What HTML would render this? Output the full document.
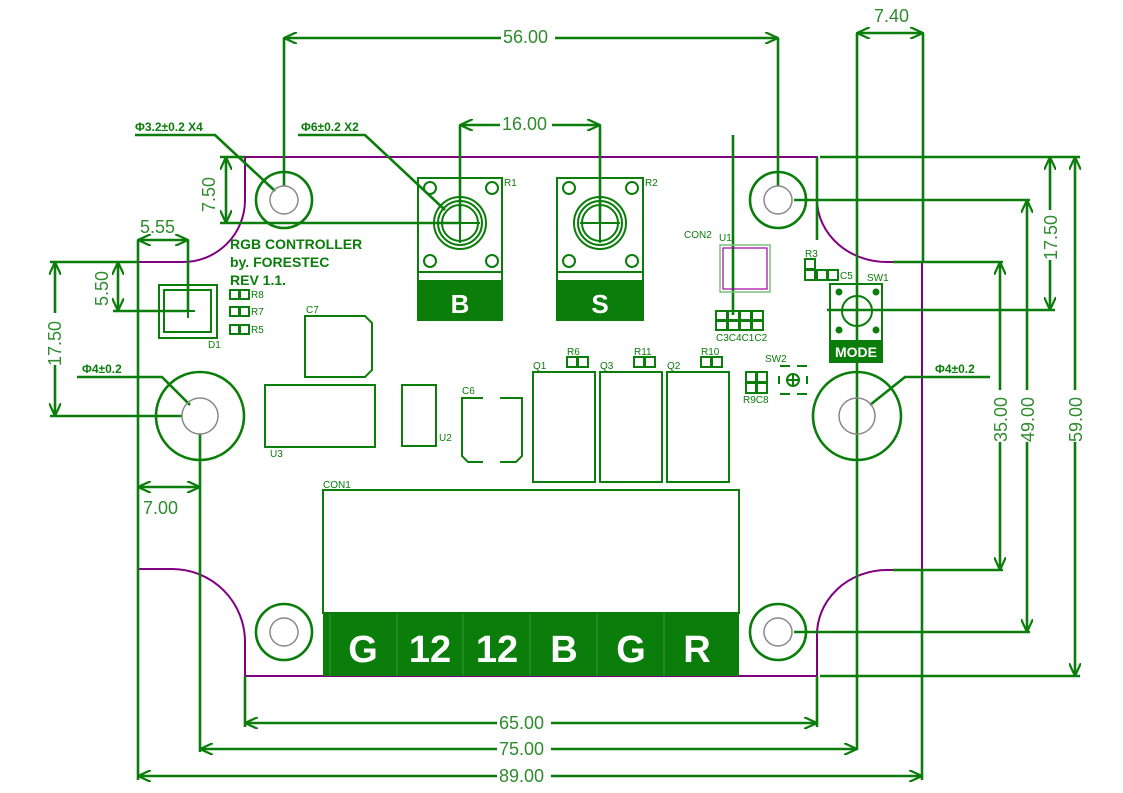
<!DOCTYPE html>
<html><head><meta charset="utf-8"><style>
html,body{margin:0;padding:0;background:#fff;width:1123px;height:793px;overflow:hidden}
svg{display:block}
.g{stroke:#0a7d0a;stroke-width:2.6;fill:none}
.t{stroke:#0a7d0a;stroke-width:2;fill:none}
.p{stroke:#800080;stroke-width:2;fill:none}
.h{stroke:#888;stroke-width:1.5;fill:none}
.d{font-family:"Liberation Sans",sans-serif;font-size:18px;fill:#2e8b2e}
.b{font-family:"Liberation Sans",sans-serif;font-weight:bold;fill:#0a7d0a}
.s{font-family:"Liberation Sans",sans-serif;font-size:10px;fill:#0a7d0a}
.w{font-family:"Liberation Sans",sans-serif;font-weight:bold;fill:#fff}
</style></head><body>
<svg width="1123" height="793" viewBox="0 0 1123 793">
<defs>
<marker id="a" viewBox="0 0 14 12" refX="13" refY="6" markerWidth="14" markerHeight="12" markerUnits="userSpaceOnUse" orient="auto-start-reverse">
<path d="M0,0 L13,6 L0,12" fill="none" stroke="#0a7d0a" stroke-width="2.2"/>
</marker>
</defs>
<!-- board outline -->
<path class="p" d="M245,157 L817,157 L817,200 A70,63 0 0 0 890,262 L922,262 L922,570 L887,570 A70,65 0 0 0 817,637 L817,676 L245,676 L245,643 A73,73 0 0 0 172,569 L138,569 L138,262 L183,262 A62,62 0 0 0 245,200 Z"/>

<!-- extension lines -->
<g class="g">
<path d="M284,38 V186"/><path d="M778,38 V186"/>
<path d="M460,125 V223"/><path d="M600,125 V223"/>
<path d="M857,33 V750"/><path d="M923,33 V262"/>
<path d="M220,157 H245"/><path d="M220,223 H460"/>
<path d="M188,240 V311"/><path d="M138,240 V780"/>
<path d="M50,262 H138"/><path d="M113,311 H188"/>
<path d="M50,416 H182"/><path d="M200,434 V752"/>
<path d="M245,676 V727"/><path d="M817,676 V727"/>
<path d="M922,570 V780"/>
<path d="M820,157 H1080"/><path d="M817,157 V240"/>
<path d="M794,200 H1030"/><path d="M827,310 H1055"/>
<path d="M893,262 H1003"/><path d="M893,570 H1003"/>
<path d="M794,632 H1030"/><path d="M820,676 H1080"/>
<path d="M733,135 V315"/>
</g>
<!-- dimension lines -->
<g class="g" marker-start="url(#a)" marker-end="url(#a)">
<path d="M284,38 H778"/>
<path d="M460,125 H600"/>
<path d="M857,33 H923"/>
<path d="M226,157 V223"/>
<path d="M138,240 H188"/>
<path d="M118,262 V311"/>
<path d="M55,262 V416"/>
<path d="M138,487 H200"/>
<path d="M245,723 H817"/>
<path d="M200,749 H857"/>
<path d="M138,776 H922"/>
<path d="M1050,157 V310"/>
<path d="M1000,262 V570"/>
<path d="M1027,200 V632"/>
<path d="M1075,157 V676"/>
</g>
<!-- dim text with white gaps -->
<g fill="#fff">
<rect x="501" y="28" width="54" height="18"/>
<rect x="500" y="115" width="52" height="18"/>
<rect x="497" y="713" width="54" height="18"/>
<rect x="497" y="739" width="54" height="18"/>
<rect x="497" y="766" width="54" height="18"/>
<rect x="1040" y="210" width="20" height="50"/>
<rect x="990" y="390" width="20" height="52"/>
<rect x="1017" y="390" width="20" height="52"/>
<rect x="1065" y="390" width="20" height="52"/>
<rect x="45" y="313" width="20" height="52"/>
</g>
<g class="d">
<text x="503" y="43">56.00</text>
<text x="502" y="130">16.00</text>
<text x="874" y="22">7.40</text>
<text x="499" y="729">65.00</text>
<text x="499" y="755">75.00</text>
<text x="499" y="782">89.00</text>
<text x="143" y="514">7.00</text>
<text x="140" y="233">5.55</text>
<text transform="translate(215,212) rotate(-90)">7.50</text>
<text transform="translate(108,306) rotate(-90)">5.50</text>
<text transform="translate(61,366) rotate(-90)">17.50</text>
<text transform="translate(1057,260) rotate(-90)">17.50</text>
<text transform="translate(1007,442) rotate(-90)">35.00</text>
<text transform="translate(1034,442) rotate(-90)">49.00</text>
<text transform="translate(1082,442) rotate(-90)">59.00</text>
</g>
<!-- leaders -->
<g class="g">
<path d="M135,135 H215 L275,191"/>
<path d="M298,135 H365 L445,210"/>
<path d="M77,377 H162 L190,405"/>
<path d="M990,377 H905 L870,405"/>
</g>
<g class="b" font-size="12">
<text x="135" y="131">Φ3.2±0.2 X4</text>
<text x="301" y="131">Φ6±0.2 X2</text>
<text x="82" y="373">Φ4±0.2</text>
<text x="935" y="373">Φ4±0.2</text>
</g>
<!-- holes -->
<g class="g">
<circle cx="284" cy="200" r="28"/><circle cx="778" cy="200" r="28"/>
<circle cx="284" cy="632" r="28"/><circle cx="778" cy="632" r="28"/>
<circle cx="200" cy="416" r="44"/><circle cx="857" cy="416" r="44"/>
</g>
<g class="h">
<circle cx="284" cy="200" r="14"/><circle cx="778" cy="200" r="14"/>
<circle cx="284" cy="632" r="14"/><circle cx="778" cy="632" r="14"/>
<circle cx="200" cy="416" r="18"/><circle cx="857" cy="416" r="18"/>
</g>
<!-- title -->
<g class="b" font-size="14">
<text x="230" y="249">RGB CONTROLLER</text>
<text x="230" y="267">by. FORESTEC</text>
<text x="230" y="285">REV 1.1.</text>
</g>
<!-- pots -->
<g class="t">
<rect x="418" y="178" width="84" height="142"/><path d="M418,272 H502"/>
<circle cx="430" cy="188" r="6"/><circle cx="492" cy="188" r="6"/><circle cx="430" cy="261" r="6"/><circle cx="492" cy="261" r="6"/>
<circle cx="460" cy="223" r="26"/><circle cx="460" cy="223" r="22"/><circle cx="460" cy="223" r="18"/><path d="M440,223 H480 M460,203 V243"/>
<rect x="557" y="178" width="86" height="142"/><path d="M557,272 H643"/>
<circle cx="569" cy="188" r="6"/><circle cx="632" cy="188" r="6"/><circle cx="569" cy="261" r="6"/><circle cx="632" cy="261" r="6"/>
<circle cx="600" cy="223" r="26"/><circle cx="600" cy="223" r="22"/><circle cx="600" cy="223" r="18"/><path d="M580,223 H620 M600,203 V243"/>
</g>
<rect x="418" y="280" width="84" height="40" fill="#0a7d0a"/>
<rect x="557" y="280" width="86" height="40" fill="#0a7d0a"/>
<text class="w" x="460" y="313" font-size="26" text-anchor="middle">B</text>
<text class="w" x="600" y="313" font-size="26" text-anchor="middle">S</text>
<text class="s" x="504" y="186" font-size="9">R1</text>
<text class="s" x="645" y="186" font-size="9">R2</text>
<!-- D1 and small pads -->
<g class="t">
<rect x="159" y="285" width="58" height="53"/><rect x="164" y="290" width="47" height="42"/>
<path d="M188,305 V318 M181,311 H195"/>
<rect x="230" y="290" width="9" height="9"/><rect x="240" y="290" width="9" height="9"/>
<rect x="230" y="307" width="9" height="9"/><rect x="240" y="307" width="9" height="9"/>
<rect x="230" y="325" width="9" height="9"/><rect x="240" y="325" width="9" height="9"/>
</g>
<text class="s" x="251" y="298" font-size="9">R8</text>
<text class="s" x="251" y="315" font-size="9">R7</text>
<text class="s" x="251" y="333" font-size="9">R5</text>
<text class="s" x="208" y="348" font-size="9">D1</text>
<!-- C7 U3 U2 C6 -->
<g class="t">
<path d="M305,316 H365 L372,323 V370 L365,377 H305 Z"/>
<rect x="265" y="385" width="110" height="62"/>
<rect x="402" y="385" width="34" height="61"/>
<path d="M483,398 H462 V456 L468,462 H483 M500,398 H522 V456 L516,462 H500"/>
<rect x="533" y="372" width="62" height="110"/>
<rect x="600" y="372" width="62" height="110"/>
<rect x="667" y="372" width="62" height="110"/>
<rect x="567" y="357" width="10" height="10"/><rect x="578" y="357" width="10" height="10"/>
<rect x="634" y="357" width="10" height="10"/><rect x="645" y="357" width="10" height="10"/>
<rect x="701" y="357" width="10" height="10"/><rect x="712" y="357" width="10" height="10"/>
<rect x="323" y="490" width="416" height="123"/>
</g>
<g class="s" font-size="9">
<text x="306" y="313">C7</text><text x="270" y="457">U3</text><text x="439" y="441">U2</text>
<text x="462" y="394">C6</text><text x="533" y="369">Q1</text><text x="600" y="369">Q3</text><text x="667" y="369">Q2</text>
<text x="567" y="355">R6</text><text x="634" y="355">R11</text><text x="701" y="355">R10</text>
<text x="323" y="488">CON1</text><text x="684" y="238">CON2</text><text x="719" y="241">U1</text>
<text x="716" y="341">C3C4C1C2</text><text x="805" y="257">R3</text><text x="840" y="279">C5</text>
<text x="867" y="281">SW1</text><text x="765" y="362">SW2</text><text x="743" y="403">R9C8</text>
</g>
<!-- CON1 terminal -->
<rect x="323" y="613" width="416" height="63" fill="#0a7d0a"/>
<g stroke="#3a9a3a" stroke-width="1"><path d="M330,614 V675 M397,614 V675 M463,614 V675 M530,614 V675 M597,614 V675 M664,614 V675"/></g>
<g class="w" font-size="38" text-anchor="middle">
<text x="363" y="662">G</text><text x="430" y="662">12</text><text x="497" y="662">12</text>
<text x="564" y="662">B</text><text x="631" y="662">G</text><text x="697" y="662">R</text>
</g>
<!-- U1 and caps -->
<rect x="720" y="245" width="50" height="47" fill="none" stroke="#7fbf7f" stroke-width="1.5"/>
<rect x="723" y="248" width="44" height="41" fill="none" stroke="#a000a0" stroke-width="1.2"/>
<g class="t" stroke-width="1.8">
<rect x="716" y="311" width="11" height="9"/><rect x="728" y="311" width="11" height="9"/><rect x="740" y="311" width="11" height="9"/><rect x="752" y="311" width="11" height="9"/>
<rect x="716" y="321" width="11" height="9"/><rect x="728" y="321" width="11" height="9"/><rect x="740" y="321" width="11" height="9"/><rect x="752" y="321" width="11" height="9"/>
<rect x="805" y="259" width="10" height="10"/><rect x="805" y="270" width="10" height="10"/><rect x="817" y="270" width="10" height="10"/><rect x="828" y="270" width="10" height="10"/>
<rect x="746" y="372" width="10" height="10"/><rect x="757" y="372" width="10" height="10"/>
<rect x="746" y="383" width="10" height="10"/><rect x="757" y="383" width="10" height="10"/>
<rect x="830" y="284" width="52" height="78"/><circle cx="857" cy="311" r="15"/>
<circle cx="793" cy="380" r="6"/><path d="M787,380 H799 M793,374 V386"/>
<path d="M780,366 H790 M797,366 H807 M780,394 H790 M797,394 H807 M779,376 V384 M807,376 V384"/>
</g>
<g fill="#0a7d0a"><circle cx="839" cy="292" r="3.5"/><circle cx="876" cy="292" r="3.5"/><circle cx="839" cy="330" r="3.5"/><circle cx="876" cy="330" r="3.5"/></g>
<rect x="830" y="340" width="52" height="22" fill="#0a7d0a"/>
<text class="w" x="856" y="357" font-size="14" text-anchor="middle">MODE</text>
</svg>
</body></html>
